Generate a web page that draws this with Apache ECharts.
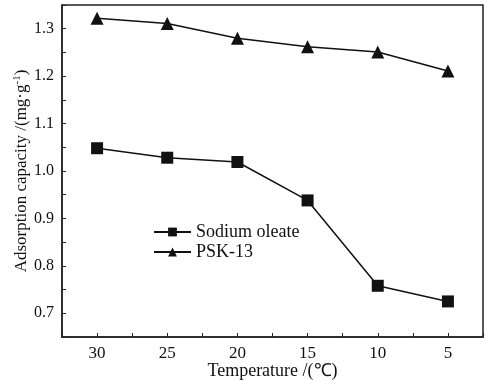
<!DOCTYPE html>
<html>
<head>
<meta charset="utf-8">
<script src="https://cdn.jsdelivr.net/npm/echarts@6/dist/echarts.min.js"></script>
<style>
  html, body { margin: 0; padding: 0; background: #fff; }
  #main { width: 489px; height: 380px; }
</style>
</head>
<body>
<div id="main"></div>
<script>
// data
var temperatures = [30, 25, 20, 15, 10, 5];
var sodiumOleate = [1.048, 1.028, 1.019, 0.938, 0.758, 0.725];
var psk13 = [1.322, 1.311, 1.280, 1.262, 1.251, 1.211];
var seriesNames = ['Sodium oleate', 'PSK-13'];

var FONT = '"Liberation Serif", "Times New Roman", serif';

function pairs(vals) {
    return temperatures.map(function (t, i) { return [t, vals[i]]; });
}
function isMultiple(v, step) {
    var q = v / step;
    return Math.abs(q - Math.round(q)) < 1e-6;
}

var chart = echarts.init(document.getElementById('main'));
chart.setOption({
    animation: false,
    backgroundColor: '#fff',
    grid: {
        left: 62, right: 6, top: 5, bottom: 43,
        outerBoundsMode: 'none', containLabel: false,
        show: true, borderColor: '#222', borderWidth: 1.5
    },
    legend: {
        left: 148, top: 218, orient: 'vertical',
        itemWidth: 37, itemHeight: 11, itemGap: 2,
        textStyle: { fontFamily: FONT, fontSize: 18, color: '#111' },
        data: seriesNames
    },
    xAxis: {
        type: 'value', inverse: true,
        min: 2.5, max: 32.5, interval: 2.5,
        name: 'Temperature /(℃)', nameLocation: 'middle', nameGap: 25,
        nameMoveOverlap: false,
        nameTextStyle: { fontFamily: FONT, fontSize: 18, color: '#111' },
        axisLine: { show: true, lineStyle: { color: '#222', width: 1.5 } },
        axisTick: { show: true, inside: true, length: 4, lineStyle: { color: '#222' } },
        axisLabel: {
            fontFamily: FONT, fontSize: 17, color: '#111', margin: 8,
            formatter: function (v) {
                return (isMultiple(v, 5) && v >= 5 && v <= 30) ? String(v) : '';
            }
        },
        splitLine: { show: false }
    },
    yAxis: {
        type: 'value',
        min: 0.65, max: 1.35, interval: 0.05,
        name: 'Adsorption capacity /(mg·g{sup|-1})', nameLocation: 'middle', nameGap: 31,
        nameMoveOverlap: false,
        nameTextStyle: {
            fontFamily: FONT, fontSize: 17, color: '#111',
            rich: { sup: { fontFamily: FONT, fontSize: 11, color: '#111', verticalAlign: 'top', padding: [0, 0, 8, 0] } }
        },
        axisLine: { show: true, lineStyle: { color: '#222', width: 1.5 } },
        axisTick: { show: true, inside: true, length: 4, lineStyle: { color: '#222' } },
        axisLabel: {
            fontFamily: FONT, fontSize: 16, color: '#111', margin: 8,
            formatter: function (v) {
                return (isMultiple(v, 0.1) && v > 0.66 && v < 1.34) ? v.toFixed(1) : '';
            }
        },
        splitLine: { show: false }
    },
    series: [
        {
            name: seriesNames[0], type: 'line',
            data: pairs(sodiumOleate),
            symbol: 'rect', symbolSize: 12,
            itemStyle: { color: '#111' },
            lineStyle: { color: '#111', width: 1.5 }
        },
        {
            name: seriesNames[1], type: 'line',
            data: pairs(psk13),
            symbol: 'triangle', symbolSize: 13,
            itemStyle: { color: '#111' },
            lineStyle: { color: '#111', width: 1.5 }
        }
    ]
});
</script>
</body>
</html>
